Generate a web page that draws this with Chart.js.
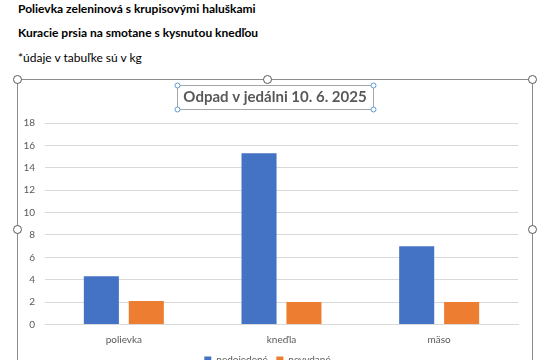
<!DOCTYPE html>
<html lang="sk">
<head>
<meta charset="UTF-8">
<title>Odpad v jedálni</title>
<script src="https://cdn.jsdelivr.net/npm/chart.js"></script>
<style>
  html, body {
    margin: 0;
    padding: 0;
    width: 540px;
    height: 360px;
    overflow: hidden;
    background: #fff;
    font-family: Lato, "Open Sans", sans-serif;
    color: #000;
  }
  .line {
    position: absolute;
    left: 18px;
    font-size: 12px;
    white-space: nowrap;
  }
  .bold { font-weight: bold; }
  #chartBox {
    position: absolute;
    left: 0;
    top: 70px;
    width: 540px;
    height: 305px;
  }
</style>
</head>
<body>
  <div class="line bold" style="top:1px">Polievka zeleninová s krupisovými haluškami</div>
  <div class="line bold" style="top:25px">Kuracie prsia na smotane s kysnutou knedľou</div>
  <div class="line" style="top:50px">*údaje v tabuľke sú v kg</div>
  <div id="chartBox"><canvas id="chart" width="540" height="305"></canvas></div>
  <script>
    const categories = ['polievka', 'kneďla', 'mäso']
    const nedojedene = [4.3, 15.3, 7.0]
    const nevydane = [2.1, 2.0, 2.0]
    const yTicks = [0, 2, 4, 6, 8, 10, 12, 14, 16, 18]
    const chartTitle = 'Odpad v jedálni 10. 6. 2025'

    const textGray = '#595959'

    // title in its selected box + Word selection frame with handles
    const frame = {
      id: 'frame',
      afterDraw(chart) {
        const c = chart.ctx
        c.save()
        c.strokeStyle = '#8c8c8c'
        c.lineWidth = 1
        c.beginPath()
        c.moveTo(17.5, 400)
        c.lineTo(17.5, 9.5)
        c.lineTo(532.5, 9.5)
        c.lineTo(532.5, 400)
        c.stroke()
        const big = [[17.5, 9.5], [267.5, 9.5], [532.5, 9.5], [17.5, 159.5], [532.5, 159.5]]
        big.forEach(([x, y]) => {
          c.beginPath()
          c.arc(x, y, 4, 0, Math.PI * 2)
          c.fillStyle = '#fff'
          c.fill()
          c.strokeStyle = '#595959'
          c.stroke()
        })
        const cx = 275
        c.font = 'bold 15px Lato'
        c.fillStyle = textGray
        c.textAlign = 'center'
        c.textBaseline = 'middle'
        c.fillText(chartTitle, cx, 27.5)
        const w = c.measureText(chartTitle).width
        const x0 = Math.round(cx - w / 2 - 6) + 0.5, x1 = Math.round(cx + w / 2 + 6) + 0.5
        const y0 = 15.5, y1 = 39.5
        c.strokeStyle = '#a6a6a6'
        c.strokeRect(x0, y0, x1 - x0, y1 - y0)
        ;[[x0, y0], [x1, y0], [x0, y1], [x1, y1]].forEach(([x, y]) => {
          c.beginPath()
          c.arc(x, y, 2.5, 0, Math.PI * 2)
          c.fillStyle = '#fff'
          c.fill()
          c.strokeStyle = '#5b9bd5'
          c.stroke()
        })
        c.restore()
      }
    }

    new Chart(document.getElementById('chart'), {
      type: 'bar',
      data: {
        labels: categories,
        datasets: [
          { label: 'nedojedené', data: nedojedene, backgroundColor: '#4472c4' },
          { label: 'nevydané', data: nevydane, backgroundColor: '#ed7d31' }
        ]
      },
      options: {
        responsive: false,
        animation: false,
        maintainAspectRatio: false,
        layout: { padding: { left: 17, right: 22, top: 53, bottom: 0 } },
        datasets: { bar: { barPercentage: 0.78, categoryPercentage: 0.57 } },
        scales: {
          x: {
            grid: { display: false },
            border: { color: '#d9d9d9' },
            ticks: { color: textGray, font: { family: 'Lato', size: 10 }, padding: 1 }
          },
          y: {
            min: 0,
            max: 18,
            afterFit(s) { s.width = 28 },
            afterBuildTicks(s) { s.ticks = yTicks.map(v => ({ value: v })) },
            grid: { color: '#d9d9d9', drawTicks: false },
            border: { display: false },
            ticks: { color: textGray, font: { family: 'Lato', size: 10 }, padding: 10 }
          }
        },
        plugins: {
          title: { display: false },
          legend: {
            position: 'bottom',
            labels: { boxWidth: 7, boxHeight: 7, color: textGray, font: { family: 'Lato', size: 10 }, padding: 8.5 }
          },
          tooltip: { enabled: false }
        }
      },
      plugins: [frame]
    })
  </script>
</body>
</html>
